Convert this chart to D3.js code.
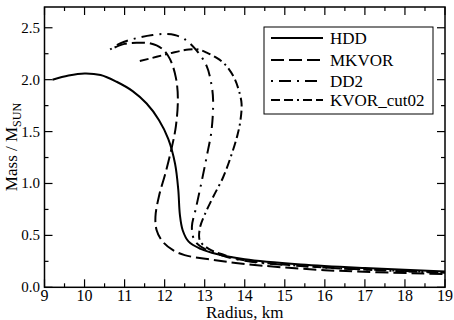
<!DOCTYPE html>
<html><head><meta charset="utf-8">
<script src="https://cdn.jsdelivr.net/npm/d3@7"></script>
<style>body{margin:0;background:#fff}svg{display:block}</style>
</head><body><svg id="c" width="454" height="320"></svg>
<script>
const FONT = "Liberation Serif, Times New Roman, serif";
const seriesNames = ["HDD","MKVOR","DD2","KVOR_cut02"];
const hdd = [[9.2,2.0],[9.6,2.04],[10.0,2.06],[10.4,2.045],[10.8,1.98],[11.2,1.89],[11.55,1.77],[11.86,1.61],[12.09,1.43],[12.26,1.19],[12.34,0.94],[12.38,0.70],[12.45,0.55],[12.6,0.44],[12.9,0.37],[13.3,0.32],[14.0,0.27],[15.4,0.22],[17,0.185],[19,0.152]];
const mkvor = [[10.75,2.31],[11.0,2.345],[11.3,2.355],[11.63,2.35],[11.93,2.30],[12.13,2.20],[12.28,2.02],[12.33,1.82],[12.28,1.55],[12.18,1.35],[12.02,1.10],[11.86,0.88],[11.77,0.68],[11.8,0.55],[11.95,0.44],[12.2,0.36],[12.5,0.31],[13.2,0.265],[14,0.225],[16,0.165],[19,0.128]];
const dd2 = [[10.64,2.29],[10.89,2.35],[11.3,2.40],[11.7,2.43],[12.0,2.44],[12.25,2.43],[12.5,2.39],[12.8,2.28],[13.05,2.13],[13.17,1.95],[13.21,1.80],[13.17,1.51],[13.05,1.26],[12.93,1.03],[12.78,0.76],[12.68,0.58],[12.75,0.45],[13.0,0.37],[13.4,0.31],[14,0.255],[16,0.19],[19,0.145]];
const kvor = [[11.38,2.18],[11.8,2.22],[12.2,2.26],[12.6,2.29],[12.85,2.29],[13.05,2.26],[13.3,2.21],[13.5,2.15],[13.72,2.03],[13.85,1.9],[13.92,1.77],[13.89,1.6],[13.82,1.47],[13.68,1.29],[13.46,1.06],[13.21,0.87],[13.0,0.70],[12.88,0.57],[12.88,0.45],[13.1,0.37],[13.5,0.31],[14,0.26],[16,0.19],[19,0.14]];
const xTicks = [9,10,11,12,13,14,15,16,17,18,19];
const yTicks = [0.0,0.5,1.0,1.5,2.0,2.5];

const svg = d3.select("#c");
const L=44.5, R=445, T=7, B=287.3;
const x = d3.scaleLinear().domain([9,19]).range([L,R]);
const y = d3.scaleLinear().domain([0,2.7]).range([B,T]);

svg.append("clipPath").attr("id","cp").append("rect").attr("x",L).attr("y",T).attr("width",R-L).attr("height",B-T);

const data = [hdd,mkvor,dd2,kvor];
const dashes = [null,"13,5","2,6,12,6","9,4,9,4,2,4"];
const line = d3.line().x(d=>x(d[0])).y(d=>y(d[1])).curve(d3.curveCatmullRom.alpha(0.5));
const g = svg.append("g").attr("clip-path","url(#cp)");
data.forEach((d,i)=>{
  g.append("path").attr("d",line(d)).attr("fill","none").attr("stroke","#000")
   .attr("stroke-width",2).attr("stroke-dasharray",dashes[i]);
});

const xMinor = d3.range(9.5,19,1);
const yMinor = d3.range(0.25,2.7,0.5);
const ax = svg.append("g");
function ln(x1,y1,x2,y2){ ax.append("line").attr("x1",x1).attr("y1",y1).attr("x2",x2).attr("y2",y2).attr("stroke","#000").attr("stroke-width",1.2); }
xTicks.forEach(v=>{ ln(x(v),B,x(v),B-8); ln(x(v),T,x(v),T+8); });
xMinor.forEach(v=>{ ln(x(v),B,x(v),B-4); ln(x(v),T,x(v),T+4); });
yTicks.forEach(v=>{ ln(L,y(v),L+8,y(v)); ln(R,y(v),R-8,y(v)); });
yMinor.forEach(v=>{ ln(L,y(v),L+4,y(v)); ln(R,y(v),R-4,y(v)); });
svg.append("rect").attr("x",L).attr("y",T).attr("width",R-L).attr("height",B-T).attr("fill","none").attr("stroke","#000").attr("stroke-width",1.5);

svg.append("g").selectAll("text").data(xTicks).join("text")
  .attr("font-family",FONT).attr("x",d=>x(d)).attr("y",301).attr("text-anchor","middle").attr("font-size",16).text(d=>d);
svg.append("g").selectAll("text").data(yTicks).join("text")
  .attr("font-family",FONT).attr("x",40).attr("y",d=>y(d)+5).attr("text-anchor","end").attr("font-size",15).text(d=>d.toFixed(1));

svg.append("text").attr("font-family",FONT).attr("x",(L+R)/2).attr("y",317.5).attr("text-anchor","middle").attr("font-size",17).text("Radius, km");
const yt = svg.append("text").attr("font-family",FONT).attr("transform","translate(17,147) rotate(-90)").attr("text-anchor","middle").attr("font-size",17);
yt.append("tspan").text("Mass / M");
yt.append("tspan").attr("font-size",12).attr("dy",4).text("SUN");

const lg = svg.append("g");
lg.append("rect").attr("x",264).attr("y",27).attr("width",169).attr("height",87).attr("fill","#fff").attr("stroke","#000").attr("stroke-width",1);
const ly = [38,60,81,100];
seriesNames.forEach((n,i)=>{
  lg.append("line").attr("x1",271).attr("x2",323).attr("y1",ly[i]).attr("y2",ly[i]).attr("stroke","#000").attr("stroke-width",2).attr("stroke-dasharray",dashes[i]);
  lg.append("text").attr("font-family",FONT).attr("x",330).attr("y",ly[i]+6).attr("font-size",17).text(n);
});
</script></body></html>
